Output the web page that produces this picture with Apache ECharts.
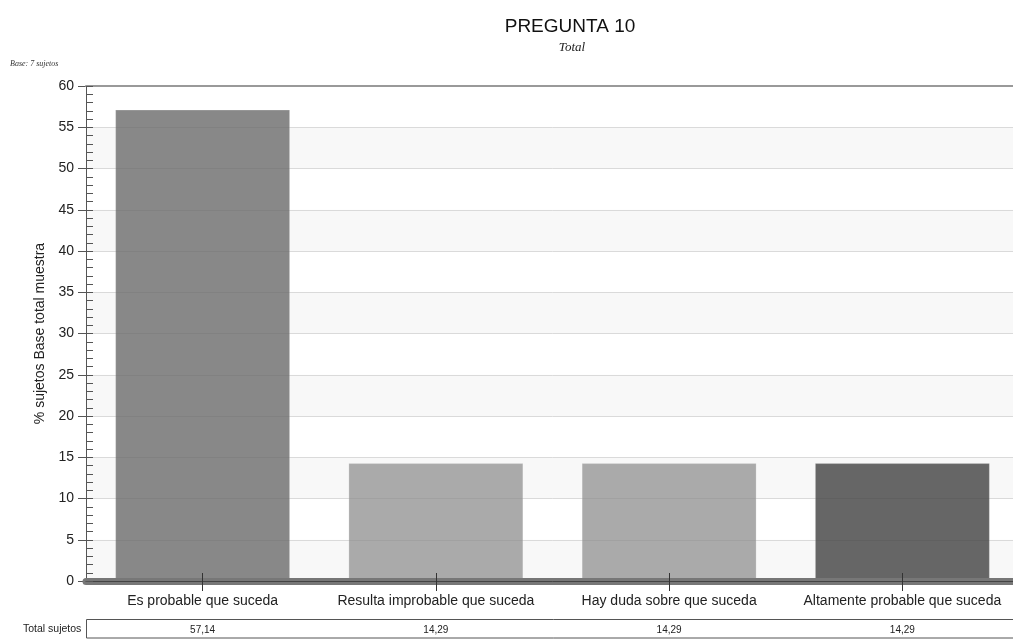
<!DOCTYPE html>
<html><head><meta charset="utf-8">
<script src="https://cdn.jsdelivr.net/npm/echarts@6/dist/echarts.min.js"></script>
<style>html,body{margin:0;padding:0;background:#fff;overflow:hidden;width:1013px;height:639px}#c{width:1019px;height:639px}</style>
</head><body><div id="c"></div>
<script>
var categories = ['Es probable que suceda', 'Resulta improbable que suceda', 'Hay duda sobre que suceda', 'Altamente probable que suceda'];
var values = [57.14, 14.29, 14.29, 14.29];
var barColors = ['#888888', '#aaaaaa', '#aaaaaa', '#666666'];
var yTicks = [0, 5, 10, 15, 20, 25, 30, 35, 40, 45, 50, 55, 60];
var tableLabel = 'Total sujetos';
var tableValues = values.map(function (v) { return v.toFixed(2).replace('.', ','); });

var chart = echarts.init(document.getElementById('c'));
chart.setOption({
  animation: false,
  title: [
    { text: 'PREGUNTA 10', left: 565, top: 12, textAlign: 'center',
      textStyle: { fontFamily: 'Liberation Sans, Arial', fontSize: 19, fontWeight: 'normal', color: '#111' } },
    { text: 'Total', left: 567, top: 36, textAlign: 'center',
      textStyle: { fontFamily: 'Liberation Serif, serif', fontSize: 13, fontStyle: 'italic', fontWeight: 'normal', color: '#222' } },
    { text: 'Base: 7 sujetos', left: 5, top: 55,
      textStyle: { fontFamily: 'Liberation Serif, serif', fontSize: 8, fontStyle: 'italic', fontWeight: 'normal', color: '#333' } },
    { text: tableLabel, left: 18, top: 619,
      textStyle: { fontFamily: 'Liberation Sans, Arial', fontSize: 10.5, fontWeight: 'normal', color: '#222' } }
  ],
  grid: { left: 86, right: 0, top: 86, bottom: 58, containLabel: false },
  xAxis: [
    { type: 'category', data: categories, position: 'bottom', z: 5,
      axisLine: { show: true, lineStyle: { color: '#444', width: 1 } },
      axisTick: { show: true, alignWithLabel: true, inside: true, length: 8, lineStyle: { color: '#333' } },
      axisLabel: { show: false }, splitLine: { show: false } },
    { type: 'category', data: categories, position: 'bottom', offset: 4, z: 4,
      axisLine: { show: true, lineStyle: { color: '#777777', width: 7 } },
      axisTick: { show: false }, axisLabel: { show: false }, splitLine: { show: false } },
    { type: 'category', data: categories, position: 'bottom', offset: 0, z: 6,
      axisLine: { show: false },
      axisTick: { show: true, alignWithLabel: true, length: 10, lineStyle: { color: '#333' } },
      axisLabel: { show: true, margin: 13, fontFamily: 'Liberation Sans, Arial', fontSize: 14, color: '#222', interval: 0 },
      splitLine: { show: false } },
    { type: 'category', data: tableValues, position: 'bottom', offset: 44,
      axisLine: { show: false }, axisTick: { show: false },
      axisLabel: { show: true, margin: 0, fontFamily: 'Liberation Sans, Arial', fontSize: 10, color: '#222', interval: 0 },
      splitLine: { show: false } },
    { type: 'category', data: categories, position: 'top', z: 5,
      axisLine: { show: true, lineStyle: { color: '#999', width: 2 } },
      axisTick: { show: false }, axisLabel: { show: false }, splitLine: { show: false } }
  ],
  yAxis: [
    { type: 'value', min: 0, max: 60, interval: 5, position: 'left', z: 0,
      name: '% sujetos Base total muestra', nameLocation: 'middle', nameGap: 31, nameRotate: 90,
      nameTextStyle: { fontFamily: 'Liberation Sans, Arial', fontSize: 14, color: '#222' },
      axisLine: { show: true, lineStyle: { color: '#555' } },
      axisTick: { show: true, length: 8, lineStyle: { color: '#555' } },
      axisLabel: { margin: 12, fontFamily: 'Liberation Sans, Arial', fontSize: 14, color: '#222',
        formatter: function (v) { return yTicks.indexOf(v) >= 0 ? String(v) : ''; } },
      splitLine: { show: true, lineStyle: { color: '#e6e6e6' } },
      splitArea: { show: true, areaStyle: { color: ['#f8f8f8', '#ffffff'] } } },
    { type: 'value', min: 0, max: 60, interval: 5, position: 'left', offset: 0, z: 5,
      axisLine: { show: false },
      axisTick: { show: true, inside: true, length: 7, lineStyle: { color: '#555' } },
      minorTick: { show: true, splitNumber: 5, length: 7, lineStyle: { color: '#555' } },
      axisLabel: { show: false },
      splitLine: { show: true, lineStyle: { color: 'rgba(0,0,0,0.05)' } } }
  ],
  graphic: [
    { type: 'rect', shape: { x: 86.5, y: 619.5, width: 940, height: 18.5 }, z: 0,
      style: { fill: 'none', stroke: '#555', lineWidth: 1 } }
  ],
  series: [{
    type: 'bar', xAxisIndex: 0, yAxisIndex: 0, barWidth: '75%',
    data: values.map(function (v, i) {
      return { value: v, itemStyle: { color: barColors[i], borderColor: 'rgba(255,255,255,0.2)', borderWidth: 1 } };
    })
  }]
});
</script></body></html>
